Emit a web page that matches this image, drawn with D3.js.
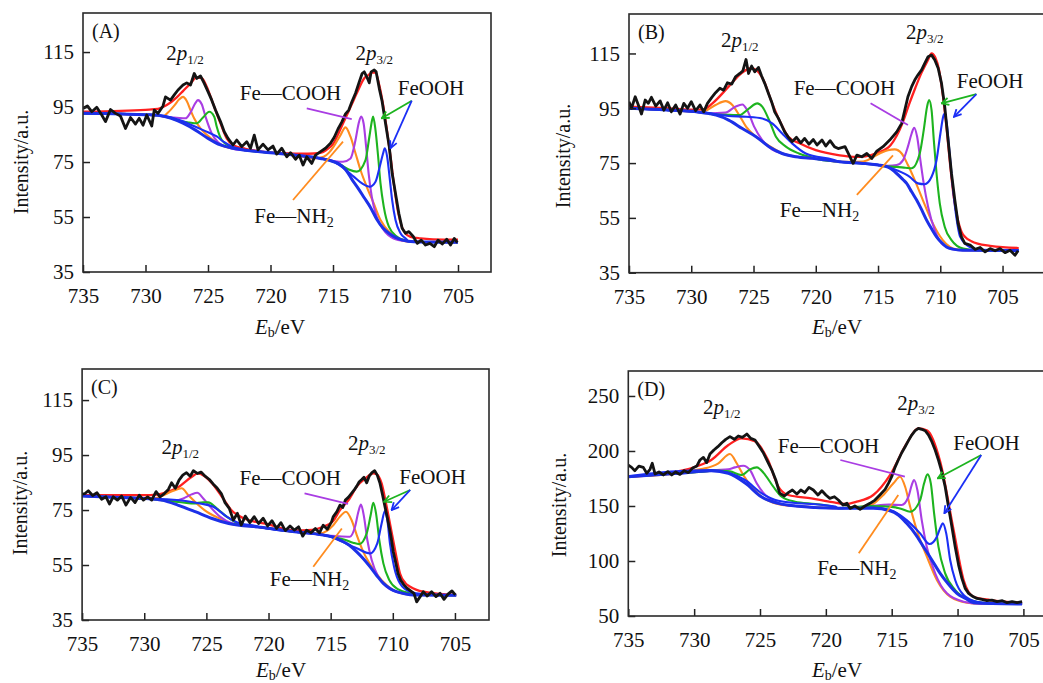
<!DOCTYPE html>
<html>
<head>
<meta charset="utf-8">
<script src="https://cdn.jsdelivr.net/npm/d3@7"></script>
<style>
  html, body { margin: 0; padding: 0; background: #fff; }
  svg { display: block; }
  svg text { font-family: "Liberation Serif", "Times New Roman", Times, serif; }
</style>
</head>
<body>
<svg id="fig" width="1043" height="683"></svg>
<script>
// Fe 2p XPS spectra of four samples (A–D): raw counts, fitted envelope,
// Shirley background and the four fitted components.
// Every point is [binding energy / eV, intensity / a.u.], listed from high to low energy.

const xTicks = [735, 730, 725, 720, 715, 710, 705];
const yTicksABC = [35, 55, 75, 95, 115];
const yTicksD = [50, 100, 150, 200, 250];
const panelTags = ["(A)", "(B)", "(C)", "(D)"];

// ---------- sample A ----------
const aRaw = [[735.0,94.5],[734.65,95.4],[734.3,93.3],[733.9,94.9],[733.5,92.1],[733.2,89.7],[732.8,94.1],[732.4,92.7],[732.0,91.7],[731.6,87.2],[731.2,91.2],[730.8,88.8],[730.5,90.9],[730.2,88.4],[729.9,92.1],[729.5,88.1],[729.3,93.9],[729.0,92.7],[728.6,95.4],[728.4,98.7],[728.0,97.5],[727.7,99.4],[727.4,101.2],[727.0,103.0],[726.7,103.8],[726.4,103.0],[726.1,107.2],[725.9,105.4],[725.6,106.3],[725.3,103.6],[725.0,100.6],[724.7,97.5],[724.4,93.9],[724.0,89.7],[723.7,86.0],[723.4,83.6],[723.0,81.2],[722.7,83.0],[722.3,80.6],[721.9,82.4],[721.6,80.0],[721.3,84.8],[721.0,79.4],[720.6,81.5],[720.2,79.4],[719.8,80.8],[719.5,77.9],[719.1,80.0],[718.7,76.9],[718.4,78.4],[718.0,76.0],[717.7,77.5],[717.4,73.9],[717.1,76.9],[716.7,74.5],[716.4,77.5],[716.0,78.8],[715.6,80.0],[715.2,81.8],[714.9,84.0],[714.6,87.0],[714.3,89.5],[714.0,92.5],[713.74,93.9],[713.48,97.0],[713.2,100.0],[712.94,103.6],[712.67,107.2],[712.5,107.8],[712.3,106.0],[712.1,103.8],[711.95,107.8],[711.7,108.5],[711.55,107.8],[711.3,101.8],[711.07,97.0],[710.8,89.1],[710.5,80.6],[710.27,70.9],[710.0,63.6],[709.73,56.3],[709.47,50.9],[709.2,49.1],[708.93,49.7],[708.58,47.9],[708.26,45.4],[707.94,46.6],[707.6,44.8],[707.25,45.4],[706.9,44.2],[706.6,46.6],[706.26,45.2],[705.9,46.9],[705.6,44.8],[705.3,47.2],[705.05,45.7]];
const aFit = [[735,93.3],[732,93.6],[730,94.0],[729,94.3],[728.3,95.7],[727.5,98.5],[727,100.8],[726.4,103.6],[725.9,105.8],[725.5,105.5],[725.1,102.4],[724.6,96.3],[724,89.1],[723.5,83.6],[723,81.2],[722,79.8],[721,79.0],[719,78.2],[717,78.0],[716,78.3],[715.5,79.5],[715,81.5],[714.5,86.0],[714,91.0],[713.5,96.0],[713,101.0],[712.5,105.5],[712.2,106.5],[711.9,107.5],[711.6,107.5],[711.3,103.0],[711,96.0],[710.7,87.0],[710.4,77.0],[710.1,66.0],[709.8,57.0],[709.5,51.5],[709.2,49.0],[708.8,47.8],[708,47.2],[707,46.9],[705,46.8]];
const aBase = [[735,92.7],[732,92.5],[730,92.2],[729,92.0],[728,91.0],[727,89.1],[726,86.6],[725,83.6],[724,81.2],[723,80.0],[722,79.3],[720,78.4],[718,77.5],[716,76.3],[715,75.2],[714.5,74.3],[714,72.3],[713.5,68.8],[713,65.5],[712.5,62.0],[712,58.5],[711.5,54.2],[711,51.0],[710.5,49.0],[710,47.6],[709.5,46.7],[709,46.2],[708,45.9],[705,45.8]];
// components: 2p1/2 part and 2p3/2 part; outside these the component runs on the background
const aNH2 = [
  [[728.6,91.6],[728.2,93.0],[727.7,95.5],[727.3,97.8],[727.0,98.7],[726.7,97.2],[726.4,93.9],[726.1,90.8],[725.6,87.2],[725.0,84.5],[724.5,82.6],[723.9,81.0],[723.3,80.2]],
  [[716.5,76.3],[715.75,76.9],[715.3,78.5],[714.95,80.6],[714.4,84.8],[714.0,87.6],[713.6,84.2],[713.2,78.2],[712.8,72.1],[712.3,66.0],[711.75,60.0],[711.2,53.9],[710.4,49.1],[709.6,46.6],[709.1,46.1]]];
const aCOOH = [
  [[728.4,91.4],[727.5,91.1],[726.8,90.9],[726.4,93.0],[726.0,96.5],[725.8,97.5],[725.5,96.0],[725.2,91.5],[724.7,85.4],[724.2,82.2],[723.6,80.6],[722.8,79.6]],
  [[715.5,76.0],[714.8,75.3],[714.2,75.1],[713.6,76.3],[713.2,83.0],[712.95,89.0],[712.75,91.5],[712.55,89.0],[712.35,80.6],[712.15,70.9],[711.9,62.4],[711.5,55.1],[710.95,50.3],[710.15,47.2],[709.3,46.3]]];
const aFeOOH1 = [
  [[727.5,90.2],[726.5,89.4],[725.9,89.1],[725.4,91.2],[724.9,93.3],[724.5,91.5],[724.3,87.8],[723.9,83.0],[723.2,80.6],[722.5,79.7]],
  [[715.0,75.2],[714.4,74.0],[713.74,72.3],[713.1,71.5],[712.4,75.7],[712.09,84.2],[711.87,90.3],[711.79,91.5],[711.6,86.6],[711.39,77.0],[711.2,67.2],[710.94,58.8],[710.53,51.5],[709.87,47.8],[709.06,46.3]]];
const aFeOOH2 = [
  [[728,91.3],[727,89.8],[726,87.8],[725,85.8],[724.3,84.3],[723.7,82.2],[723,80.5],[722.3,79.6]],
  [[715.0,75.3],[714.14,72.7],[713.34,69.7],[712.67,67.2],[712.06,66.0],[711.6,67.8],[711.26,73.3],[710.99,78.2],[710.86,80.0],[710.67,77.0],[710.45,68.5],[710.27,61.2],[710.0,53.9],[709.6,49.1],[709.06,46.6]]];
// label anchors: 2p1/2, 2p3/2, Fe—COOH, FeOOH, Fe—NH2
const aLabels = [[726.84,112],[711.7,112],[718.4,97.5],[707.16,99.4],[718.12,52.9]];
// leader lines: Fe—COOH, FeOOH (green), FeOOH (blue), Fe—NH2  [e1, v1, e2, v2]
const aLeaders = [[717.1,94.5,713.5,90.6],[708.7,97.3,711.1,90.9],[708.7,97.3,710.4,80],[718.2,61.2,714.2,82.4]];

// ---------- sample B ----------
const bRaw = [[735.0,97.4],[734.8,95.0],[734.5,99.2],[734.25,96.2],[734.0,92.9],[733.7,98.0],[733.45,96.8],[733.2,99.0],[732.85,95.8],[732.5,97.7],[732.2,94.3],[731.9,97.0],[731.6,93.7],[731.25,96.2],[730.9,92.9],[730.6,96.8],[730.3,95.0],[730.0,97.4],[729.65,94.1],[729.3,96.2],[729.0,93.7],[728.7,96.8],[728.35,99.0],[728.05,100.7],[727.7,102.3],[727.4,101.6],[727.1,104.3],[726.75,103.8],[726.45,106.5],[726.1,107.7],[725.85,108.7],[725.6,112.8],[725.4,107.7],[725.15,110.4],[724.9,108.3],[724.6,109.9],[724.35,106.8],[724.1,104.1],[723.8,100.4],[723.55,97.4],[723.3,93.7],[723.0,91.3],[722.75,88.9],[722.5,86.4],[722.2,84.4],[721.9,82.8],[721.55,84.4],[721.2,82.4],[720.9,84.0],[720.55,81.9],[720.2,83.6],[719.9,81.6],[719.5,83.4],[719.2,81.2],[718.85,83.2],[718.5,81.0],[718.2,80.3],[717.65,81.0],[717.25,77.3],[717.0,74.9],[716.7,77.9],[716.3,77.3],[715.9,78.5],[715.5,76.7],[715.1,79.4],[714.6,81.0],[714.06,83.4],[713.5,86.4],[713.1,89.5],[712.85,94.3],[712.6,99.2],[712.3,102.9],[712.05,105.3],[711.8,107.1],[711.5,109.0],[711.25,111.4],[710.98,113.8],[710.7,114.4],[710.44,112.6],[710.17,109.6],[709.9,104.1],[709.64,95.6],[709.37,83.4],[709.1,71.2],[708.83,61.5],[708.57,53.0],[708.3,48.1],[708.03,45.7],[707.6,45.1],[707.2,43.5],[706.8,44.2],[706.4,42.6],[706.0,43.8],[705.6,43.0],[705.2,43.8],[704.8,42.3],[704.4,43.2],[704.0,41.4],[703.75,43.0]];
const bFit = [[735,95.6],[732,95.0],[730,94.5],[729,94.6],[728.3,96.8],[727,102.9],[726,107.7],[725.2,109.6],[724.8,109.0],[724.2,105.3],[723.5,96.8],[722.8,89.5],[722.2,84.6],[721.3,82.2],[720,79.7],[718.2,77.9],[717,77.3],[716,77.5],[715,78.8],[714,81.5],[713.5,85.0],[713,90.0],[712.5,96.5],[712,102.5],[711.5,108.0],[711,112.5],[710.7,115.0],[710.4,113.5],[710.1,109.0],[709.8,100.0],[709.5,88.0],[709.2,74.0],[708.9,62.0],[708.6,54.5],[708.3,50.0],[708,48.0],[707.5,46.5],[707,45.6],[706,44.8],[705,44.3],[703.7,44.0]];
const bBase = [[735,95.0],[732,94.4],[729.6,93.7],[728.5,93.0],[728,92.5],[727,90.7],[725.9,87.6],[724.8,84.6],[723.75,81.0],[722.7,78.5],[721.6,77.3],[720,76.6],[718.1,75.5],[716,74.8],[715,74.3],[714.2,73.5],[713.5,71.2],[713,69.0],[712.7,67.6],[712.3,64.5],[711.9,61.5],[711.5,58.0],[711.1,54.2],[710.7,51.0],[710.3,48.1],[709.9,46.0],[709.5,44.4],[709,43.6],[708.2,43.2],[703.7,43.1]];
const bNH2 = [
  [[729.3,93.6],[728.85,94.1],[728.05,96.2],[727.25,97.6],[726.7,96.2],[726.15,92.5],[725.6,88.3],[724.8,84.6],[724.0,82.0],[723.0,79.3]],
  [[717.5,75.5],[716.2,75.6],[714.87,78.5],[714.2,79.7],[713.66,80.0],[713.1,78.5],[712.6,74.3],[712.05,68.8],[711.4,61.5],[710.6,53.0],[709.8,46.9],[708.7,43.5],[708.0,43.2]]];
const bCOOH = [
  [[728.6,93.1],[727.25,93.4],[726.45,95.6],[725.9,96.4],[725.5,94.3],[724.95,88.3],[724.3,83.4],[723.5,79.9],[722.6,78.4]],
  [[715.2,74.4],[714.2,74.0],[713.5,74.3],[712.99,76.1],[712.6,81.0],[712.3,85.8],[712.1,87.9],[711.86,84.6],[711.6,76.1],[711.33,67.6],[710.98,59.1],[710.44,50.5],[709.77,45.1],[708.7,43.3]]];
const bFeOOH1 = [
  [[728.2,92.7],[726.9,92.6],[726.15,92.5],[725.35,95.0],[724.7,96.8],[724.3,95.6],[723.75,90.7],[723.2,84.6],[722.4,81.0],[721.35,78.5],[720.3,77.0]],
  [[714.6,73.9],[713.5,73.6],[712.8,73.3],[712.3,73.1],[711.65,78.5],[711.33,87.0],[711.06,95.6],[710.9,98.0],[710.7,94.3],[710.52,83.4],[710.3,71.2],[710.04,60.3],[709.64,51.7],[709.1,46.9],[708.16,43.8],[707.0,43.2]]];
const bFeOOH2 = [
  [[729.2,93.6],[727.0,92.2],[725.6,91.9],[724.3,91.3],[723.5,89.5],[722.7,85.8],[721.9,82.2],[720.8,78.5],[718.6,76.2]],
  [[716.3,75.0],[714.5,74.0],[713.5,72.4],[712.45,70.0],[711.8,67.6],[711.25,67.3],[710.7,70.0],[710.3,76.1],[709.99,85.8],[709.77,91.9],[709.7,92.9],[709.5,90.1],[709.3,81.0],[709.05,68.8],[708.75,56.6],[708.4,48.1],[707.63,44.4],[706.56,43.2]]];
const bLabels = [[726.1,117.5],[711.25,120.2],[717.7,99.9],[706.0,102.3],[719.7,55.2]];
const bLeaders = [[715.6,96.8,712.6,88.9],[707.1,100.2,709.9,96.8],[707.1,100.2,708.9,91.9],[716.7,63.4,713.8,77.8]];

// ---------- sample C ----------
const cRaw = [[735.0,80.8],[734.77,81.0],[734.5,82.0],[734.15,80.3],[733.8,81.3],[733.43,78.9],[733.08,79.8],[732.8,77.2],[732.5,79.8],[732.16,78.6],[731.82,80.1],[731.47,76.8],[731.1,79.6],[730.74,77.7],[730.4,80.4],[730.07,78.6],[729.73,79.8],[729.4,78.6],[729.05,81.7],[728.73,79.8],[728.38,81.0],[728.06,82.5],[727.8,84.9],[727.5,82.9],[727.2,85.9],[726.9,87.7],[726.6,88.6],[726.3,87.3],[726.05,89.3],[725.73,88.3],[725.43,88.8],[725.1,87.3],[724.76,86.1],[724.44,84.4],[724.12,82.9],[723.8,81.0],[723.5,77.7],[723.16,75.6],[722.83,71.4],[722.5,73.8],[722.2,69.5],[721.87,72.8],[721.5,70.4],[721.15,72.6],[720.8,70.1],[720.43,72.0],[720.07,69.2],[719.72,71.1],[719.35,68.3],[719.0,70.4],[718.65,67.5],[718.27,69.2],[717.93,67.7],[717.58,68.9],[717.25,65.5],[716.93,67.7],[716.58,66.7],[716.23,68.3],[715.9,66.7],[715.6,69.5],[715.27,68.0],[714.93,70.7],[714.8,72.5],[714.5,74.4],[714.25,76.8],[714.03,75.9],[713.82,78.6],[713.58,79.6],[713.37,80.8],[713.12,82.2],[712.9,83.7],[712.7,85.3],[712.5,86.1],[712.32,86.9],[712.1,84.9],[711.9,87.3],[711.68,88.6],[711.46,89.3],[711.25,87.7],[711.03,84.7],[710.82,80.4],[710.6,75.6],[710.4,71.3],[710.17,65.9],[709.96,59.8],[709.75,55.6],[709.58,51.9],[709.37,49.5],[709.1,47.7],[708.83,46.5],[708.57,45.6],[708.3,44.7],[708.08,41.6],[707.8,43.5],[707.55,45.3],[707.23,43.7],[706.88,45.3],[706.53,43.5],[706.2,44.7],[705.88,42.5],[705.56,44.4],[705.24,45.6],[704.97,44.1]];
const cFit = [[735,80.4],[730,80.4],[729,80.6],[728.2,81.5],[727.2,83.5],[726.2,87.0],[725.7,88.3],[725.2,87.5],[724.5,84.5],[723.7,79.5],[723,75.0],[722,72.0],[720,69.8],[718,67.6],[716.5,67.8],[715.6,68.9],[714.8,71.0],[714.25,75.0],[713.5,79.0],[712.9,83.5],[712.2,86.5],[711.57,88.3],[711.3,88.0],[710.9,84.7],[710.55,77.5],[710.23,70.1],[709.8,60.0],[709.42,51.9],[709,48.5],[708.6,47.1],[707.55,45.3],[704.9,44.1]];
const cBase = [[735,80.1],[732,79.6],[729.9,79.2],[728.6,78.6],[727.3,76.8],[725.9,74.4],[724.6,72.0],[723.2,70.1],[720.6,68.7],[717.9,67.1],[715.6,65.9],[714.9,65.3],[714.25,64.1],[713.5,62.2],[712.9,59.8],[712.35,57.2],[711.84,54.4],[711.3,51.2],[710.76,48.3],[710.2,46.4],[709.7,45.3],[709,44.5],[708.35,44.1],[704.9,44.0]];
const cNH2 = [
  [[729.4,79.1],[728.73,79.8],[727.66,82.0],[726.99,82.9],[726.45,80.4],[725.78,77.4],[724.98,74.4],[724.17,72.4],[723.3,70.4]],
  [[716.5,66.6],[715.86,66.5],[714.79,69.5],[714.25,72.6],[713.77,74.4],[713.31,71.3],[712.9,65.9],[712.37,59.8],[711.7,54.4],[710.9,49.5],[709.96,45.9],[708.9,44.4],[708.0,44.1]]];
const cCOOH = [
  [[728.5,78.7],[727.5,78.5],[726.86,79.2],[726.19,80.7],[725.73,81.3],[725.25,79.2],[724.58,75.6],[723.91,72.6],[723.0,70.3]],
  [[715.4,65.8],[714.5,65.5],[713.45,65.3],[713.04,68.9],[712.77,74.4],[712.56,77.0],[712.32,72.6],[712.05,64.1],[711.7,56.8],[711.17,50.7],[710.5,47.1],[709.42,44.9],[708.5,44.2]]];
const cFeOOH1 = [
  [[727.5,78.0],[726.6,77.6],[726.05,77.4],[725.25,77.8],[724.85,77.8],[724.17,75.6],[723.37,72.6],[722.57,70.4],[721.5,69.3]],
  [[715.1,65.4],[713.8,64.1],[713.2,63.1],[712.7,62.6],[712.1,66.5],[711.78,73.2],[711.57,77.6],[711.35,73.8],[711.09,64.1],[710.76,55.6],[710.28,49.5],[709.56,46.1],[708.62,44.7],[707.8,44.2]]];
const cFeOOH2 = [
  [[729.5,79.2],[728.2,78.9],[725.52,77.4],[724.44,76.2],[723.37,72.6],[722.3,70.1],[721.0,69.2]],
  [[715.2,65.6],[714.25,63.8],[712.9,61.1],[711.84,59.2],[711.25,62.9],[710.9,70.1],[710.63,74.7],[710.44,71.3],[710.23,62.9],[709.9,54.4],[709.42,48.3],[708.62,45.3],[707.55,44.4]]];
const cLabels = [[727.1,95.4],[712.1,96.8],[718.25,84.1],[706.8,84.5],[716.7,47.5]];
const cLeaders = [[717.1,81.1,713.6,77.2],[708.6,82.3,710.7,78],[708.6,82.3,710.1,75],[716.4,54.4,714.1,68.3]];

// ---------- sample D ----------
const dRaw = [[735.0,187.2],[734.75,185.1],[734.5,182.1],[734.2,186.3],[733.86,185.1],[733.6,179.7],[733.35,183.3],[733.18,188.8],[732.97,179.1],[732.67,180.9],[732.34,178.2],[732.0,181.2],[731.7,178.2],[731.4,180.9],[731.08,178.7],[730.75,182.1],[730.44,180.3],[730.14,184.2],[729.8,186.3],[729.56,191.8],[729.3,194.2],[729.05,189.4],[728.8,197.2],[728.5,200.9],[728.2,203.9],[727.9,207.5],[727.6,210.6],[727.28,213.0],[726.95,210.6],[726.65,213.6],[726.34,212.4],[726.0,215.4],[725.7,211.5],[725.38,210.0],[725.08,204.5],[724.75,198.4],[724.42,190.3],[724.1,182.7],[723.8,173.6],[723.5,161.5],[723.15,159.1],[722.85,162.1],[722.54,164.5],[722.2,160.9],[721.9,164.5],[721.6,162.1],[721.28,166.9],[720.95,164.5],[720.6,160.0],[720.3,163.9],[720.0,160.0],[719.7,156.9],[719.35,158.4],[719.05,155.4],[718.7,150.9],[718.4,152.5],[718.17,147.8],[717.8,150.0],[717.4,147.0],[717.03,150.0],[716.65,152.4],[716.27,155.4],[715.9,160.0],[715.5,165.1],[715.25,170.6],[715.0,176.6],[714.75,185.1],[714.5,191.8],[714.24,198.4],[713.98,203.9],[713.73,209.4],[713.48,214.5],[713.22,218.4],[712.97,220.6],[712.72,219.7],[712.46,218.4],[712.2,214.5],[711.95,208.4],[711.7,200.9],[711.45,191.8],[711.2,181.2],[710.94,167.5],[710.69,149.4],[710.43,131.2],[710.18,113.0],[709.92,96.3],[709.67,84.2],[709.42,75.1],[709.16,70.6],[708.9,68.2],[708.53,66.0],[708.15,65.1],[707.77,63.9],[707.4,64.5],[707.0,63.0],[706.6,63.9],[706.24,62.1],[705.86,63.0],[705.48,62.1],[705.1,63.0]];
const dFit = [[735,176.6],[732.5,179.0],[729.9,185.7],[728.7,191.8],[727.4,205.4],[726.4,211.5],[725.4,209.0],[724.4,192.0],[723.6,167.5],[722.85,160.0],[721.1,156.9],[719.5,153.5],[718.5,151.8],[717.66,153.9],[716.4,160.0],[715.13,178.1],[713.86,206.9],[713.0,220.6],[712.3,218.5],[711.32,190.3],[710.3,128.2],[709.54,82.7],[708.78,67.5],[707.5,64.5],[705.1,62.1]];
const dBase = [[735,176.6],[731.2,179.7],[728.7,182.1],[727.4,179.7],[726.1,170.6],[724.9,158.4],[723.6,152.4],[722.3,150.0],[719.05,147.9],[716.4,147.9],[715.13,145.7],[714.5,141.8],[713.86,134.2],[713.2,124.5],[712.59,113.0],[711.95,100.9],[711.32,88.8],[710.7,79.1],[710.05,70.6],[709.4,66.0],[708.78,62.1],[705.1,60.9]];
const dNH2 = [
  [[729.8,183.0],[729.18,184.2],[728.16,188.8],[727.28,197.2],[726.77,188.8],[726.27,178.1],[725.63,167.5],[724.87,158.4],[724.0,153.0],[723.0,150.5]],
  [[717.8,149.0],[716.9,149.4],[715.63,160.0],[714.87,170.6],[714.37,176.6],[713.98,167.5],[713.6,149.4],[713.1,128.2],[712.33,103.9],[711.57,82.7],[710.56,67.5],[709.29,62.1],[708.2,61.2]]];
const dCOOH = [
  [[728.5,182.4],[727.4,183.3],[726.9,185.1],[726.27,186.6],[725.76,182.7],[725.25,170.6],[724.6,160.0],[723.86,153.9],[722.8,150.5]],
  [[716.6,150.0],[715.2,151.2],[714.24,150.9],[713.73,158.4],[713.48,169.0],[713.3,173.6],[713.05,164.5],[712.72,137.2],[712.34,113.0],[711.7,88.8],[710.81,70.6],[709.54,63.0],[708.3,61.2]]];
const dFeOOH1 = [
  [[728.6,182.3],[727.3,181.5],[726.4,178.1],[725.76,183.3],[725.25,185.1],[724.6,178.1],[723.99,167.5],[723.35,158.4],[722.34,153.9],[720.8,151.8],[719.5,149.5]],
  [[716.6,150.0],[715.0,149.2],[714.3,147.5],[713.6,144.8],[712.84,155.4],[712.54,170.6],[712.28,178.7],[712.03,170.6],[711.78,143.3],[711.45,113.0],[710.94,88.8],[710.18,73.6],[709.04,64.5],[707.8,61.5]]];
const dFeOOH2 = [
  [[734.9,177.2],[728.7,182.7],[726.14,173.6],[724.87,161.5],[723.6,154.8],[719.3,149.4]],
  [[716.5,148.5],[715.13,146.3],[713.86,137.2],[712.84,125.1],[712.13,115.4],[711.57,122.1],[711.27,131.2],[711.12,134.2],[710.86,125.1],[710.56,100.9],[710.18,82.7],[709.54,69.1],[708.53,63.0],[707.0,61.2]]];
const dLabels = [[727.9,233.6],[713.15,237.3],[719.8,197.9],[707.8,200.9],[717.65,87.3]];
const dLeaders = [[718.9,191.8,714,176.6],[708.2,196.4,711.5,175.2],[708.2,196.4,711,143.4],[717.5,107,714.5,160]];

// ---------- layout (pixels) ----------
const layout = [
  { box: [83, 13, 491, 272],      xDom: [735, 702.36], yDom: [35, 129.2], yTicks: yTicksABC, yLab: [28, 162],  xLab: [280, 334] },
  { box: [629, 14, 1045, 272.7],  xDom: [735, 701.59], yDom: [35, 129.4], yTicks: yTicksABC, yLab: [570, 156], xLab: [837, 334] },
  { box: [82.1, 369, 489, 620],   xDom: [735, 702.26], yDom: [35, 126.3], yTicks: yTicksABC, yLab: [27, 503],  xLab: [281, 677] },
  { box: [628.3, 371, 1045, 616], xDom: [735, 703.36], yDom: [50, 272.7], yTicks: yTicksD,   yLab: [566, 505], xLab: [837, 677] }
];
const series = [
  { raw: aRaw, fit: aFit, base: aBase, comps: [aNH2, aCOOH, aFeOOH1, aFeOOH2], labels: aLabels, leaders: aLeaders },
  { raw: bRaw, fit: bFit, base: bBase, comps: [bNH2, bCOOH, bFeOOH1, bFeOOH2], labels: bLabels, leaders: bLeaders },
  { raw: cRaw, fit: cFit, base: cBase, comps: [cNH2, cCOOH, cFeOOH1, cFeOOH2], labels: cLabels, leaders: cLeaders },
  { raw: dRaw, fit: dFit, base: dBase, comps: [dNH2, dCOOH, dFeOOH1, dFeOOH2], labels: dLabels, leaders: dLeaders }
];

const SERIF = '"Liberation Serif", "Times New Roman", Times, serif';
const COL = { raw: "#141414", fit: "#ff2020", base: "#1c30e8",
              comp: ["#ff8c1f", "#a93de3", "#1db41f", "#1b2ff5"] };
const leaderCol = [COL.comp[1], COL.comp[2], COL.comp[3], COL.comp[0]];

const svg = d3.select("#fig").style("font-family", SERIF);
const defs = svg.append("defs");
["g", "b"].forEach((k, i) => {
  defs.append("marker").attr("id", "arr-" + k)
    .attr("viewBox", "0 0 10 10").attr("refX", 9).attr("refY", 5)
    .attr("markerWidth", 5).attr("markerHeight", 5).attr("orient", "auto")
    .append("path").attr("d", "M1,1 L9,5 L1,9").attr("fill", "none")
    .attr("stroke", i === 0 ? COL.comp[2] : COL.comp[3]).attr("stroke-width", 2);
});

// component line = background outside its fitted segments, fitted points inside
function compose(base, segs) {
  const covered = e => segs.some(s => e <= s[0][0] && e >= s[s.length - 1][0]);
  return base.filter(p => !covered(p[0])).concat(...segs).sort((a, b) => b[0] - a[0]);
}

layout.forEach((L, i) => {
  const S = series[i];
  const [l, t, r, b] = L.box;
  const x = d3.scaleLinear().domain(L.xDom).range([l, r]);
  const y = d3.scaleLinear().domain(L.yDom).range([b, t]);
  const g = svg.append("g");

  defs.append("clipPath").attr("id", "clip" + i)
    .append("rect").attr("x", l).attr("y", t).attr("width", r - l).attr("height", b - t);
  const plot = g.append("g").attr("clip-path", `url(#clip${i})`);

  const smooth = d3.line().x(d => x(d[0])).y(d => y(d[1])).curve(d3.curveMonotoneX);
  const jagged = d3.line().x(d => x(d[0])).y(d => y(d[1]));

  plot.append("path").attr("d", smooth(S.fit)).attr("fill", "none")
    .attr("stroke", COL.fit).attr("stroke-width", 2.3);
  S.comps.forEach((segs, k) => {
    plot.append("path").attr("d", smooth(compose(S.base, segs))).attr("fill", "none")
      .attr("stroke", COL.comp[k]).attr("stroke-width", 2.1);
  });
  plot.append("path").attr("d", smooth(S.base)).attr("fill", "none")
    .attr("stroke", COL.base).attr("stroke-width", 3);
  plot.append("path").attr("d", jagged(S.raw)).attr("fill", "none")
    .attr("stroke", COL.raw).attr("stroke-width", 2.8).attr("stroke-linejoin", "round");

  // axes with inward ticks
  const xAxis = d3.axisBottom(x).tickValues(xTicks).tickFormat(d3.format("d"))
    .tickSizeInner(-7).tickSizeOuter(0).tickPadding(16);
  const gx = g.append("g").attr("transform", `translate(0,${b})`).call(xAxis);
  const yAxis = d3.axisLeft(y).tickValues(L.yTicks).tickFormat(d3.format("d"))
    .tickSizeInner(-7).tickSizeOuter(0).tickPadding(9);
  const gy = g.append("g").attr("transform", `translate(${l},0)`).call(yAxis);
  [gx, gy].forEach(ax => {
    ax.attr("font-family", null).style("font-family", SERIF);
    ax.select(".domain").remove();
    ax.selectAll(".tick line").attr("stroke", "#222").attr("stroke-width", 1.5);
    ax.selectAll(".tick text").attr("fill", "#111").attr("font-size", 21).style("font-family", SERIF);
  });

  g.append("rect").attr("x", l).attr("y", t).attr("width", r - l).attr("height", b - t)
    .attr("fill", "none").attr("stroke", "#2a2a2a").attr("stroke-width", 1.6);

  // panel tag
  g.append("text").attr("x", l + 9).attr("y", t + 25).attr("font-size", 20)
    .attr("fill", "#111").text(panelTags[i]);

  // axis titles
  g.append("text").attr("transform", `translate(${L.yLab[0]},${L.yLab[1]}) rotate(-90)`)
    .attr("text-anchor", "middle").attr("font-size", 20).attr("fill", "#111").text("Intensity/a.u.");
  const xt = g.append("text").attr("x", L.xLab[0]).attr("y", L.xLab[1])
    .attr("text-anchor", "middle").attr("font-size", 21).attr("fill", "#111");
  xt.append("tspan").attr("font-style", "italic").text("E");
  xt.append("tspan").attr("font-size", 14).attr("dy", 3).text("b");
  xt.append("tspan").attr("dy", -3).text("/eV");

  // leader lines
  S.leaders.forEach((ld, k) => {
    const line = g.append("line")
      .attr("x1", x(ld[0])).attr("y1", y(ld[1])).attr("x2", x(ld[2])).attr("y2", y(ld[3]))
      .attr("stroke", leaderCol[k]).attr("stroke-width", 1.8);
    if (k === 1) line.attr("marker-end", "url(#arr-g)");
    if (k === 2) line.attr("marker-end", "url(#arr-b)");
  });

  // peak and component labels
  const lab = S.labels;
  [["1/2", lab[0]], ["3/2", lab[1]]].forEach(([sub, p]) => {
    const tx = g.append("text").attr("x", x(p[0])).attr("y", y(p[1]))
      .attr("text-anchor", "middle").attr("font-size", 21).attr("fill", "#111");
    tx.append("tspan").text("2");
    tx.append("tspan").attr("font-style", "italic").text("p");
    tx.append("tspan").attr("font-size", 13).attr("dy", 4).text(sub);
  });
  g.append("text").attr("x", x(lab[2][0])).attr("y", y(lab[2][1]))
    .attr("text-anchor", "middle").attr("font-size", 21).attr("fill", "#111").text("Fe—COOH");
  g.append("text").attr("x", x(lab[3][0])).attr("y", y(lab[3][1]))
    .attr("text-anchor", "middle").attr("font-size", 21).attr("fill", "#111").text("FeOOH");
  const nh = g.append("text").attr("x", x(lab[4][0])).attr("y", y(lab[4][1]))
    .attr("text-anchor", "middle").attr("font-size", 21).attr("fill", "#111");
  nh.append("tspan").text("Fe—NH");
  nh.append("tspan").attr("font-size", 14).attr("dy", 4).text("2");
});
</script>
</body>
</html>
